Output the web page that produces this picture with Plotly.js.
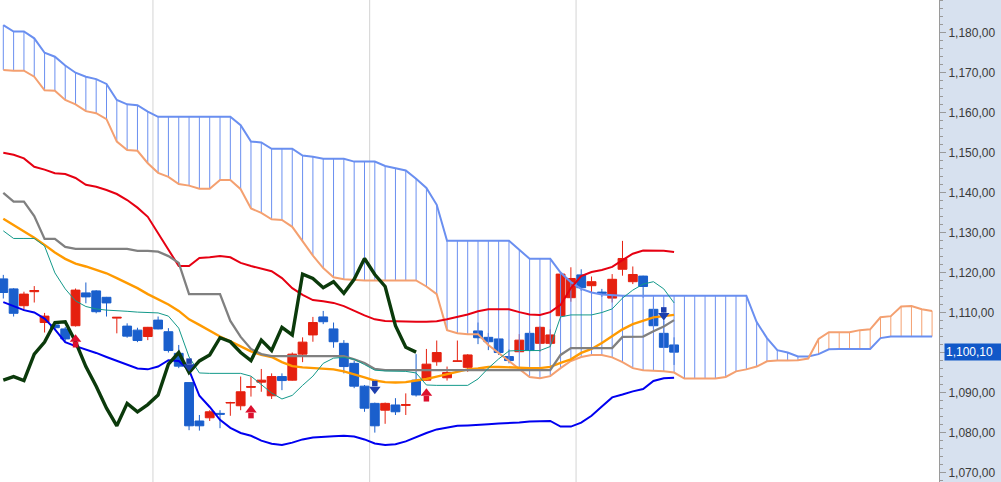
<!DOCTYPE html>
<html><head><meta charset="utf-8">
<script src="https://cdn.plot.ly/plotly-3.0.1.min.js"></script>
<style>html,body{margin:0;padding:0;background:#fff;overflow:hidden}#chart{width:1001px;height:482px}</style>
</head><body><div id="chart"></div>
<script>
// ---- price candles (index 0..65) ----
const opens = [1118.4,1115.9,1111.7,1115.2,1107.5,1106.9,1105.9,1106.7,1114.9,1115.4,
 1113.8,1108.6,1106.6,1105.6,1104.0,1108.1,1105.2,1099.8,1092.5,1082.9,
 1083.7,1084.8,1087.4,1086.7,1091.3,1092.6,1089.2,1094.0,1093.1,1099.6,
 1104.4,1108.9,1105.9,1102.3,1097.3,1091.6,1087.3,1085.6,1086.9,1086.8,
 1093.1,1093.1,1097.7,1093.7,1097.8,1096.3,1105.4,1103.8,1103.4,1099.0,
 1100.2,1104.8,1102.3,1102.3,1109.2,1113.7,1119.4,1116.7,1115.1,1113.6,
 1120.8,1117.7,1119.1,1110.8,1104.8,1101.9];
const highs = [1119.4,1116.1,1115.2,1116.6,1109.9,1107.4,1106.4,1116.0,1117.5,1115.6,
 1113.9,1108.8,1107.3,1106.2,1106.4,1109.0,1106.1,1101.9,1092.5,1084.4,
 1085.6,1085.6,1087.7,1094.0,1094.0,1095.9,1094.8,1094.8,1100.0,1103.8,
 1108.9,1110.4,1107.5,1103.1,1097.9,1091.9,1087.5,1087.5,1088.6,1089.8,
 1099.6,1100.9,1103.0,1096.5,1103.0,1099.6,1107.5,1104.9,1103.5,1100.8,
 1104.6,1105.4,1106.5,1105.8,1119.7,1121.3,1120.8,1119.0,1115.9,1119.6,
 1127.9,1121.5,1119.2,1113.8,1108.0,1103.8];
const lows = [1113.5,1109.0,1110.4,1112.5,1105.0,1105.6,1102.9,1106.5,1112.3,1109.8,
 1109.0,1104.8,1103.7,1102.6,1103.1,1105.8,1100.0,1096.1,1080.6,1080.5,
 1082.9,1081.1,1084.2,1085.6,1089.0,1090.2,1088.4,1090.6,1093.0,1097.6,
 1102.7,1107.1,1101.2,1094.8,1091.1,1085.2,1080.0,1082.2,1084.4,1084.4,
 1089.0,1093.0,1096.7,1093.0,1097.8,1095.2,1102.1,1100.6,1099.4,1097.3,
 1100.1,1100.2,1100.2,1101.3,1109.1,1112.7,1115.4,1113.7,1113.9,1112.5,
 1119.2,1117.1,1113.7,1105.9,1101.3,1096.9];
const closes = [1115.0,1109.8,1114.6,1115.5,1109.1,1106.2,1103.4,1115.6,1113.9,1110.2,
 1112.4,1108.8,1104.1,1103.0,1106.3,1105.9,1100.5,1096.6,1081.7,1081.7,
 1085.2,1084.6,1087.5,1090.2,1091.5,1093.1,1094.0,1093.0,1099.6,1102.6,
 1107.5,1107.7,1102.7,1096.5,1091.6,1086.1,1081.7,1087.3,1085.2,1087.0,
 1089.4,1097.1,1100.0,1095.0,1097.9,1099.4,1103.7,1102.7,1100.0,1098.0,
 1103.1,1100.5,1106.3,1104.4,1119.6,1118.5,1116.2,1117.7,1114.8,1118.3,
 1123.5,1119.5,1116.5,1106.7,1101.3,1100.1];

// ---- indicators ----
const bbUpper = [1149.9,1149.4,1148.5,1146.4,1145.7,1144.8,1144.6,1143.6,1141.9,1141.4,
 1140.6,1139.6,1138.1,1136.2,1133.9,1129.9,1125.9,1121.6,1121.6,1123.6,
 1123.8,1124.1,1123.8,1122.4,1121.6,1121.0,1120.3,1118.6,1116.1,1114.4,
 1113.1,1112.8,1112.4,1111.6,1110.4,1109.3,1108.3,1107.9,1107.8,1107.7,
 1107.7,1107.7,1107.8,1108.3,1108.9,1109.5,1110.3,1110.8,1110.8,1110.8,
 1110.1,1109.5,1109.4,1110.1,1111.9,1116.1,1119.1,1120.1,1120.6,1121.4,
 1123.1,1124.7,1125.5,1125.4,1125.4,1125.1];
const bbLower = [1112.6,1111.5,1110.6,1110.0,1108.5,1105.8,1102.6,1101.6,1100.8,1099.9,
 1098.9,1097.9,1096.9,1096.0,1095.8,1096.5,1098.1,1097.9,1095.6,1089.2,
 1086.4,1083.2,1081.2,1079.9,1079.2,1078.0,1077.2,1076.9,1077.5,1078.3,
 1078.8,1079.0,1079.1,1079.2,1079.0,1078.3,1077.3,1076.9,1077.1,1077.8,
 1078.9,1079.9,1080.8,1081.3,1081.7,1081.8,1081.9,1082.1,1082.3,1082.4,
 1082.5,1082.8,1082.9,1082.9,1081.5,1081.5,1082.5,1084.2,1086.5,1088.8,
 1089.5,1090.3,1090.9,1092.9,1093.6,1093.7];
const ma20 = [1133.4,1131.9,1130.2,1128.7,1126.9,1125.0,1123.4,1122.2,1121.5,1120.6,
 1119.8,1118.6,1117.4,1116.1,1114.6,1113.4,1112.0,1110.4,1108.3,1106.9,
 1105.4,1104.0,1102.8,1101.5,1100.3,1099.4,1098.9,1097.6,1096.6,1096.3,
 1096.1,1095.9,1095.8,1095.3,1094.6,1093.8,1093.0,1092.6,1092.5,1092.6,
 1093.0,1093.4,1094.0,1094.6,1095.3,1095.8,1096.0,1096.4,1096.4,1096.3,
 1096.1,1096.1,1096.1,1096.4,1097.4,1098.3,1099.9,1100.9,1102.4,1104.0,
 1105.8,1107.1,1108.0,1108.8,1109.1,1109.4];
const kijun = [1139.9,1137.7,1137.7,1134.1,1128.4,1128.4,1126.4,1125.9,1125.9,1125.9,
 1125.9,1125.9,1125.9,1125.4,1125.4,1125.2,1124.1,1122.4,1114.6,1114.6,
 1114.6,1114.6,1107.9,1103.9,1100.9,1099.6,1099.1,1099.1,1099.1,1099.1,
 1099.1,1099.1,1099.1,1099.1,1098.3,1097.4,1095.9,1095.6,1095.6,1095.6,
 1095.6,1095.6,1095.6,1095.6,1095.6,1095.6,1095.6,1095.6,1095.6,1095.6,
 1095.6,1095.6,1095.6,1095.6,1099.4,1101.1,1101.1,1101.1,1101.1,1101.1,
 1103.9,1104.0,1104.0,1105.3,1106.5,1108.1];
const tenkan = [1130.4,1128.5,1128.5,1128.5,1126.6,1119.9,1115.9,1112.9,1111.5,1110.9,
 1110.6,1110.5,1110.3,1110.1,1110.0,1109.9,1109.1,1106.1,1098.9,1094.9,
 1094.8,1094.8,1094.8,1094.8,1094.1,1092.1,1089.9,1088.4,1089.3,1091.8,
 1094.1,1097.3,1098.6,1098.8,1098.3,1097.0,1095.6,1095.4,1095.3,1095.3,
 1094.9,1091.9,1091.8,1091.8,1091.8,1091.8,1093.4,1096.1,1098.4,1100.4,
 1100.5,1100.5,1100.5,1101.5,1108.9,1109.4,1109.4,1109.4,1110.0,1110.9,
 1113.6,1115.6,1117.1,1117.7,1115.9,1112.4];
// cloud, index 0..90 (25 bars ahead)
const spanA = [1170.6,1170.4,1170.4,1168.9,1165.5,1165.4,1163.1,1162.0,1160.3,1159.8,
 1158.3,1152.7,1150.6,1150.4,1147.3,1144.9,1143.9,1142.1,1141.7,1140.9,
 1140.9,1143.1,1143.1,1140.8,1136.0,1134.9,1133.3,1133.1,1131.4,1127.7,
 1124.2,1121.1,1118.8,1118.3,1118.1,1118.0,1118.0,1118.0,1118.0,1118.0,
 1118.0,1116.5,1114.6,1105.6,1104.8,1104.6,1104.6,1101.9,1099.9,1097.9,
 1096.1,1093.9,1093.6,1094.1,1096.1,1097.9,1098.9,1099.4,1099.4,1098.8,
 1097.6,1096.1,1095.6,1095.5,1095.3,1095.0,1093.5,1093.5,1093.5,1093.5,
 1093.9,1095.3,1095.8,1096.5,1097.8,1098.0,1098.0,1098.1,1098.5,1103.4,
 1105.1,1105.1,1105.1,1105.6,1105.8,1108.8,1109.1,1111.5,1111.6,1110.8,
 1110.4];
const spanB = [1181.8,1180.2,1180.2,1178.5,1174.9,1173.9,1171.7,1169.9,1168.9,1168.3,
 1167.1,1163.1,1162.0,1161.8,1160.2,1158.9,1158.9,1158.9,1158.9,1158.9,
 1158.9,1158.9,1158.9,1156.8,1152.7,1152.5,1150.9,1150.9,1150.9,1149.2,
 1148.9,1148.4,1148.4,1148.4,1147.7,1147.7,1147.7,1146.6,1146.1,1145.5,
 1143.4,1141.1,1136.9,1127.9,1127.9,1127.9,1127.9,1127.9,1127.9,1127.9,
 1125.7,1123.4,1123.4,1123.4,1120.0,1117.6,1115.9,1115.0,1114.5,1114.3,
 1114.2,1114.2,1114.2,1114.2,1114.2,1114.2,1114.2,1114.2,1114.2,1114.2,
 1114.2,1114.2,1114.2,1107.6,1103.6,1100.6,1100.0,1099.0,1099.0,1099.6,
 1100.8,1100.9,1100.9,1100.9,1100.9,1103.6,1104.0,1104.0,1104.0,1104.0,
 1104.0];
const lagShift = 25;
// signals
const buyIdx = [7, 24, 41];
const buyTip = [1104.6, 1086.9, 1091.1];
const sellIdx = [18, 36, 64];
const sellTip = [1095.2, 1089.6, 1108.0];
const periodBreaks = [14.5, 35.5, 55.5];
const yTicks = [1070,1080,1090,1100,1110,1120,1130,1140,1150,1160,1170,1180];
const lastPrice = 1100.10;

// ---- build ----
const fmt = v => v.toLocaleString('en-US',{minimumFractionDigits:2,maximumFractionDigits:2})
  .replace(/\.(\d\d)$/, ',$1');
const idx = closes.map((_, k) => k);
const cloudIdx = spanA.map((_, k) => k);
const lagX = closes.slice(lagShift).map((_, k) => k);
const lagY = closes.slice(lagShift);

const hbX = [], hbY = [], hoX = [], hoY = [];
spanA.forEach((a, k) => {
  const b = spanB[k];
  if (b >= a) { hbX.push(k, k, null); hbY.push(a, b, null); }
  else { hoX.push(k, k, null); hoY.push(b, a, null); }
});

const RED = '#e5200f', BLUE = '#1a5fcc';
const HEAD_OFF = 1.25, STEM_OFF = 2.65;
const line = (x, y, color, width) => ({type:'scatter', mode:'lines', x, y,
  line:{color, width, shape:'linear'}, hoverinfo:'skip'});

const traces = [
  {type:'scatter', mode:'lines', x:hbX, y:hbY, line:{color:'#6a8ff0', width:1}, hoverinfo:'skip'},
  {type:'scatter', mode:'lines', x:hoX, y:hoY, line:{color:'#f4a070', width:1}, hoverinfo:'skip'},
  line(cloudIdx, spanB, '#6a8ff0', 2),
  line(cloudIdx, spanA, '#f4a070', 2),
  line(idx, bbUpper, '#e60012', 2),
  line(idx, bbLower, '#0000f0', 2),
  line(idx, ma20, '#ff9a00', 2.4),
  line(idx, kijun, '#808080', 2.3),
  line(idx, tenkan, '#13998a', 1),
  {type:'candlestick', x:idx, open:opens, high:highs, low:lows, close:closes,
   increasing:{line:{color:RED, width:1}, fillcolor:RED},
   decreasing:{line:{color:BLUE, width:1}, fillcolor:BLUE},
   whiskerwidth:0, hoverinfo:'skip', showlegend:false},
  line(lagX, lagY, '#0b3a0b', 3.4),
  {type:'scatter', mode:'markers', x:buyIdx, y:buyTip.map(t => t - STEM_OFF),
   marker:{symbol:'square', size:5.5, color:'#dc0f2d'}, hoverinfo:'skip'},
  {type:'scatter', mode:'markers', x:buyIdx, y:buyTip.map(t => t - HEAD_OFF),
   marker:{symbol:'triangle-up', size:10, color:'#dc0f2d'}, hoverinfo:'skip'},
  {type:'scatter', mode:'markers', x:sellIdx, y:sellTip.map(t => t + STEM_OFF),
   marker:{symbol:'square', size:5.5, color:'#1d3fae'}, hoverinfo:'skip'},
  {type:'scatter', mode:'markers', x:sellIdx, y:sellTip.map(t => t + HEAD_OFF),
   marker:{symbol:'triangle-down', size:10, color:'#1d3fae'}, hoverinfo:'skip'}
];

const axisFont = {family:'"Liberation Sans", Arial, sans-serif', size:12, color:'#3a3a3a'};
const layout = {
  width:1001, height:482,
  margin:{l:0, r:62, t:0, b:0, pad:0},
  paper_bgcolor:'#d7e1ef', plot_bgcolor:'#ffffff',
  showlegend:false,
  boxgap:0.1, boxgroupgap:0.05,
  xaxis:{range:[-0.32, 90.67], visible:false, fixedrange:true, rangeslider:{visible:false}},
  yaxis:{range:[1067.66, 1188.07], side:'right', showgrid:false, zeroline:false,
    showline:true, linecolor:'#9a9a9a', linewidth:1,
    ticks:'outside', ticklen:6, tickcolor:'#9a9a9a', tickwidth:1,
    tickmode:'array', tickvals:yTicks, ticktext:yTicks.map(v => v === 1100 ? '' : fmt(v)),
    tickfont:axisFont,
    minor:{tickmode:'linear', tick0:1070, dtick:2, ticks:'outside', ticklen:3, tickcolor:'#9a9a9a', showgrid:false}},
  shapes: periodBreaks.map(b => ({type:'line', xref:'x', yref:'paper', x0:b, x1:b, y0:0, y1:1,
    line:{color:'#d4d4d4', width:1}, layer:'below'})),
  annotations:[{xref:'paper', yref:'y', x:1, y:lastPrice, xanchor:'left', yanchor:'middle', xshift:5,
    text:fmt(lastPrice), showarrow:false, bgcolor:'#1158c8', borderpad:1, width:55, height:14, align:'left',
    font:{family:axisFont.family, size:12, color:'#ffffff'}}]
};
Plotly.newPlot('chart', traces, layout, {staticPlot:true, displayModeBar:false});
</script></body></html>
